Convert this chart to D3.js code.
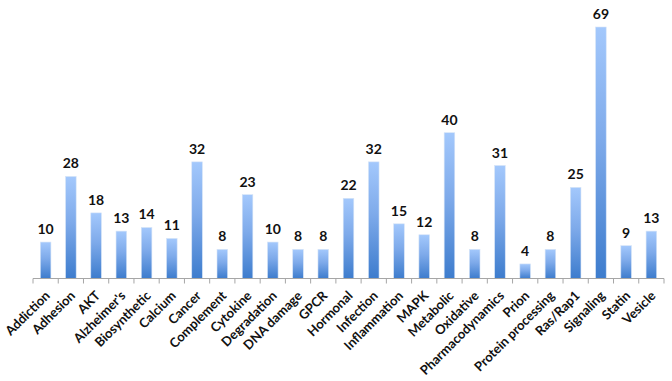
<!DOCTYPE html>
<html>
<head>
<meta charset="utf-8">
<script src="https://cdn.jsdelivr.net/npm/d3@7"></script>
<style>
  body { margin: 0; background: #fff; }
  svg { display: block; font-family: Lato, "Open Sans", sans-serif; }
</style>
</head>
<body>
<div id="chart"></div>
<script>
// pathway categories and their counts
var categories = ["Addiction", "Adhesion", "AKT", "Alzheimer's", "Biosynthetic", "Calcium", "Cancer",
  "Complement", "Cytokine", "Degradation", "DNA damage", "GPCR", "Hormonal", "Infection",
  "Inflammation", "MAPK", "Metabolic", "Oxidative", "Pharmacodynamics", "Prion",
  "Protein processing", "Ras/Rap1", "Signaling", "Statin", "Vesicle"];
var values = [10, 28, 18, 13, 14, 11, 32, 8, 23, 10, 8, 8, 22, 32, 15, 12, 40, 8, 31, 4, 8, 25, 69, 9, 13];

var width = 672, height = 381;
var baseY = 278.5;

var svg = d3.select("#chart").append("svg")
  .attr("width", width)
  .attr("height", height);

var defs = svg.append("defs");
var grad = defs.append("linearGradient")
  .attr("id", "barGrad")
  .attr("x1", 0).attr("y1", 0).attr("x2", 0).attr("y2", 1);
grad.append("stop").attr("offset", "0%").attr("stop-color", "#a3c8fc");
grad.append("stop").attr("offset", "45%").attr("stop-color", "#7eaaea");
grad.append("stop").attr("offset", "100%").attr("stop-color", "#3d7ccd");

var x = d3.scaleBand()
  .domain(categories)
  .range([33, 664])
  .paddingInner(0.58)
  .paddingOuter(0.29);

var y = d3.scaleLinear()
  .domain([0, 69])
  .range([baseY, 27]);

// bars
svg.selectAll("rect.bar")
  .data(values)
  .enter().append("rect")
  .attr("class", "bar")
  .attr("x", function(d, i) { return x(categories[i]); })
  .attr("y", function(d) { return y(d); })
  .attr("width", x.bandwidth())
  .attr("height", function(d) { return baseY - y(d); })
  .attr("fill", "url(#barGrad)")
  .attr("stroke", "#d6e4f7")
  .attr("stroke-width", 0.6);

// value labels
svg.selectAll("text.val")
  .data(values)
  .enter().append("text")
  .attr("class", "val")
  .attr("x", function(d, i) { return x(categories[i]) + x.bandwidth() / 2; })
  .attr("y", function(d) { return y(d) - 8; })
  .attr("text-anchor", "middle")
  .attr("font-size", "14px")
  .attr("font-weight", "bold")
  .attr("fill", "#111")
  .text(function(d) { return d; });

// x axis, ticks on band edges
var edges = categories.map(function(c) { return x(c) - x.step() * x.paddingInner() / 2; });
edges.push(664);

var axis = svg.append("g").attr("class", "axis");
axis.append("line")
  .attr("x1", 33).attr("x2", 664)
  .attr("y1", baseY).attr("y2", baseY)
  .attr("stroke", "#a6a6a6").attr("stroke-width", 1);
axis.selectAll("line.tick")
  .data(edges)
  .enter().append("line")
  .attr("class", "tick")
  .attr("x1", function(d) { return d; }).attr("x2", function(d) { return d; })
  .attr("y1", baseY).attr("y2", baseY + 5)
  .attr("stroke", "#a6a6a6").attr("stroke-width", 1);

// rotated category labels
axis.selectAll("text.cat")
  .data(categories)
  .enter().append("text")
  .attr("class", "cat")
  .attr("transform", function(d) {
    var cx = x(d) + x.bandwidth() / 2 + 5;
    return "translate(" + cx + "," + (baseY + 18) + ") rotate(-45)";
  })
  .attr("text-anchor", "end")
  .attr("font-size", "13px")
  .attr("font-weight", "bold")
  .attr("fill", "#111")
  .text(function(d) { return d; });
</script>
</body>
</html>
